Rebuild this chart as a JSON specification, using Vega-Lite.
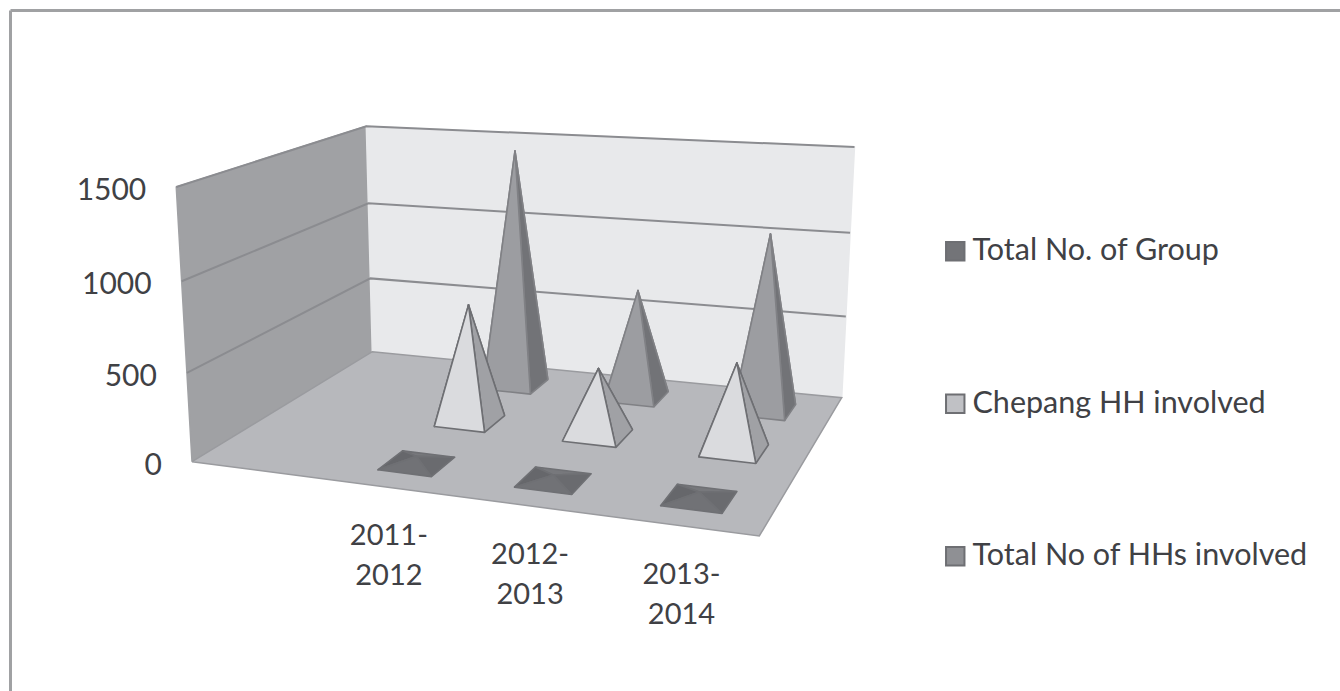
{
  "$schema": "https://vega.github.io/schema/vega-lite/v6.json",
  "width": 1330,
  "height": 681,
  "autosize": "none",
  "padding": {"left": 10, "top": 10, "right": 0, "bottom": 0},
  "background": "white",
  "view": {"stroke": null},
  "config": {"font": "Lato"},
  "datasets": {
    "scores": [
      {"year": "2011-2012", "series": "Total No of HHs involved", "value": 1450},
      {"year": "2012-2013", "series": "Total No of HHs involved", "value": 655},
      {"year": "2013-2014", "series": "Total No of HHs involved", "value": 1045},
      {"year": "2011-2012", "series": "Chepang HH involved", "value": 690},
      {"year": "2012-2013", "series": "Chepang HH involved", "value": 390},
      {"year": "2013-2014", "series": "Chepang HH involved", "value": 495},
      {"year": "2011-2012", "series": "Total No. of Group", "value": 40},
      {"year": "2012-2013", "series": "Total No. of Group", "value": 30},
      {"year": "2013-2014", "series": "Total No. of Group", "value": 35}
    ],
    "planes": [{"plane": "left"}, {"plane": "back"}, {"plane": "floor"}],
    "ticks": [{"tick": 0}, {"tick": 500}, {"tick": 1000}, {"tick": 1500}]
  },
  "encoding": {
    "x": {"field": "px", "type": "quantitative", "scale": {"domain": [10, 1340]},
      "axis": {"orient": "top", "title": null, "labels": false, "ticks": false, "grid": false, "domainColor": "#a0a1a3", "domainWidth": 3}},
    "y": {"field": "py", "type": "quantitative", "scale": {"domain": [691, 10]},
      "axis": {"orient": "left", "title": null, "labels": false, "ticks": false, "grid": false, "domainColor": "#a0a1a3", "domainWidth": 3}}
  },
  "layer": [
    {
      "data": {"name": "planes"},
      "transform": [
        {"calculate": "[0,1,2,3,4]", "as": "corner"},
        {"flatten": ["corner"]},
        {"calculate": "datum.plane=='left' ? 0 : [0,1,1,0,0][datum.corner]", "as": "u"},
        {"calculate": "datum.plane=='left' ? [0,1,1,0,0][datum.corner] : datum.plane=='back' ? 1 : [0,0,1,1,0][datum.corner]", "as": "v"},
        {"calculate": "datum.plane=='floor' ? 0 : [0,0,1,1,0][datum.corner]", "as": "w"},
        {"calculate": "(470.26*datum.u+266.3*datum.v-23.5*datum.w+192)/(1-0.1278*datum.u+0.231*datum.v-0.044*datum.w)", "as": "px"},
        {"calculate": "(5.8*datum.u-28.76*datum.v-283*datum.w+461.7)/(1-0.1278*datum.u+0.231*datum.v-0.044*datum.w)", "as": "py"}
      ],
      "mark": {"type": "line", "strokeWidth": 1.5},
      "encoding": {
        "order": {"field": "corner", "type": "quantitative"},
        "detail": {"field": "plane"},
        "fill": {"field": "plane", "type": "nominal", "legend": null,
          "scale": {"domain": ["left", "back", "floor"], "range": ["#a0a1a4", "#e8e9eb", "#b7b8bc"]}},
        "stroke": {"field": "plane", "type": "nominal", "legend": null,
          "scale": {"domain": ["left", "back", "floor"], "range": ["#a0a1a4", "#e8e9eb", "#9a9b9f"]}}
      }
    },
    {
      "data": {"name": "ticks"},
      "transform": [
        {"filter": "datum.tick > 0"},
        {"calculate": "[0,1,2]", "as": "corner"},
        {"flatten": ["corner"]},
        {"calculate": "[0,0,1][datum.corner]", "as": "u"},
        {"calculate": "[0,1,1][datum.corner]", "as": "v"},
        {"calculate": "datum.tick/1500", "as": "w"},
        {"calculate": "(470.26*datum.u+266.3*datum.v-23.5*datum.w+192)/(1-0.1278*datum.u+0.231*datum.v-0.044*datum.w)", "as": "px"},
        {"calculate": "(5.8*datum.u-28.76*datum.v-283*datum.w+461.7)/(1-0.1278*datum.u+0.231*datum.v-0.044*datum.w)", "as": "py"}
      ],
      "mark": {"type": "line", "color": "#8b8c90", "strokeWidth": 2},
      "encoding": {
        "order": {"field": "corner", "type": "quantitative"},
        "detail": {"field": "tick"}
      }
    },
    {
      "data": {"name": "ticks"},
      "transform": [
        {"calculate": "datum.tick/1500", "as": "w"},
        {"calculate": "(-23.5*datum.w+192)/(1-0.044*datum.w)", "as": "px"},
        {"calculate": "(-283*datum.w+461.7)/(1-0.044*datum.w)", "as": "py"}
      ],
      "mark": {"type": "text", "align": "right", "baseline": "middle", "dx": -30, "dy": 4, "fontSize": 30, "font": "Lato", "color": "#404145"},
      "encoding": {
        "text": {"field": "tick", "type": "quantitative"}
      }
    },
    {
      "data": {"name": "scores"},
      "transform": [
        {"calculate": "['back','left','right','front']", "as": "face"},
        {"flatten": ["face"]},
        {"calculate": "[0,1,2,3]", "as": "corner"},
        {"flatten": ["corner"]},
        {"calculate": "datum.year+'|'+datum.series+'|'+datum.face", "as": "pane"},
        {"calculate": "datum.series+'|'+datum.face", "as": "shade"},
        {"calculate": "{front:[-1,1,0,-1],right:[1,1,0,1],back:[1,-1,0,1],left:[-1,-1,0,-1]}[datum.face][datum.corner]", "as": "du"},
        {"calculate": "{front:[-1,-1,0,-1],right:[-1,1,0,-1],back:[1,1,0,1],left:[1,-1,0,1]}[datum.face][datum.corner]", "as": "dv"},
        {"calculate": "(indexof(['2011-2012','2012-2013','2013-2014'],datum.year)+1.5)/4+0.05*datum.du", "as": "u"},
        {"calculate": "(indexof(['Total No. of Group','Chepang HH involved','Total No of HHs involved'],datum.series)+0.5)/3+0.07*datum.dv", "as": "v"},
        {"calculate": "datum.corner==2 ? datum.value/1500 : 0", "as": "w"},
        {"calculate": "(470.26*datum.u+266.3*datum.v-23.5*datum.w+192)/(1-0.1278*datum.u+0.231*datum.v-0.044*datum.w)", "as": "px"},
        {"calculate": "(5.8*datum.u-28.76*datum.v-283*datum.w+461.7)/(1-0.1278*datum.u+0.231*datum.v-0.044*datum.w)", "as": "py"}
      ],
      "mark": {"type": "line", "strokeJoin": "round", "strokeWidth": 1.6},
      "encoding": {
        "order": {"field": "corner", "type": "quantitative"},
        "detail": {"field": "pane"},
        "fill": {"field": "shade", "type": "nominal", "legend": null,
          "scale": {
            "domain": [
              "Total No of HHs involved|back", "Total No of HHs involved|left", "Total No of HHs involved|right", "Total No of HHs involved|front",
              "Chepang HH involved|back", "Chepang HH involved|left", "Chepang HH involved|right", "Chepang HH involved|front",
              "Total No. of Group|back", "Total No. of Group|left", "Total No. of Group|right", "Total No. of Group|front"
            ],
            "range": [
              "#707175", "#8a8b8f", "#727377", "#9c9da1",
              "#a0a1a5", "#c0c1c5", "#a0a1a5", "#dadbde",
              "#77787c", "#66676b", "#6a6b6f", "#717276"
            ]
          }},
        "stroke": {"field": "series", "type": "nominal", "legend": null,
          "scale": {
            "domain": ["Total No of HHs involved", "Chepang HH involved", "Total No. of Group"],
            "range": ["#808185", "#6e6f73", "#6f7074"]
          }}
      }
    },
    {
      "data": {"name": "scores"},
      "transform": [
        {"filter": "datum.series=='Total No. of Group'"},
        {"calculate": "[slice(datum.year,0,5),slice(datum.year,5)]", "as": "label"},
        {"calculate": "(indexof(['2011-2012','2012-2013','2013-2014'],datum.year)+1.5)/4", "as": "u"},
        {"calculate": "(470.26*datum.u+192)/(1-0.1278*datum.u)", "as": "px"},
        {"calculate": "(5.8*datum.u+461.7)/(1-0.1278*datum.u)", "as": "py"}
      ],
      "mark": {"type": "text", "align": "center", "baseline": "top", "dx": 2, "dy": 35, "fontSize": 29, "font": "Lato", "lineHeight": 40, "color": "#404145"},
      "encoding": {
        "text": {"field": "label"}
      }
    },
    {
      "data": {"name": "scores"},
      "mark": {"type": "square", "size": 0},
      "encoding": {
        "x": {"value": 0},
        "y": {"value": 0},
        "color": {"field": "series", "type": "nominal",
          "scale": {
            "domain": ["Total No. of Group", "Chepang HH involved", "Total No of HHs involved"],
            "range": ["#737478", "#c0c1c5", "#8f9094"]
          },
          "legend": {
            "orient": "none", "legendX": 930, "legendY": 226, "title": null,
            "symbolType": "square", "symbolSize": 340, "symbolStrokeColor": "#6e6f73", "symbolStrokeWidth": 2, "symbolOpacity": 1,
            "labelFont": "Lato", "labelFontSize": 30.5, "labelColor": "#404145", "labelLimit": 0, "labelOffset": 2,
            "rowPadding": 121.5
          }}
      }
    }
  ],
  "resolve": {"scale": {"color": "independent", "fill": "independent", "stroke": "independent"}}
}
